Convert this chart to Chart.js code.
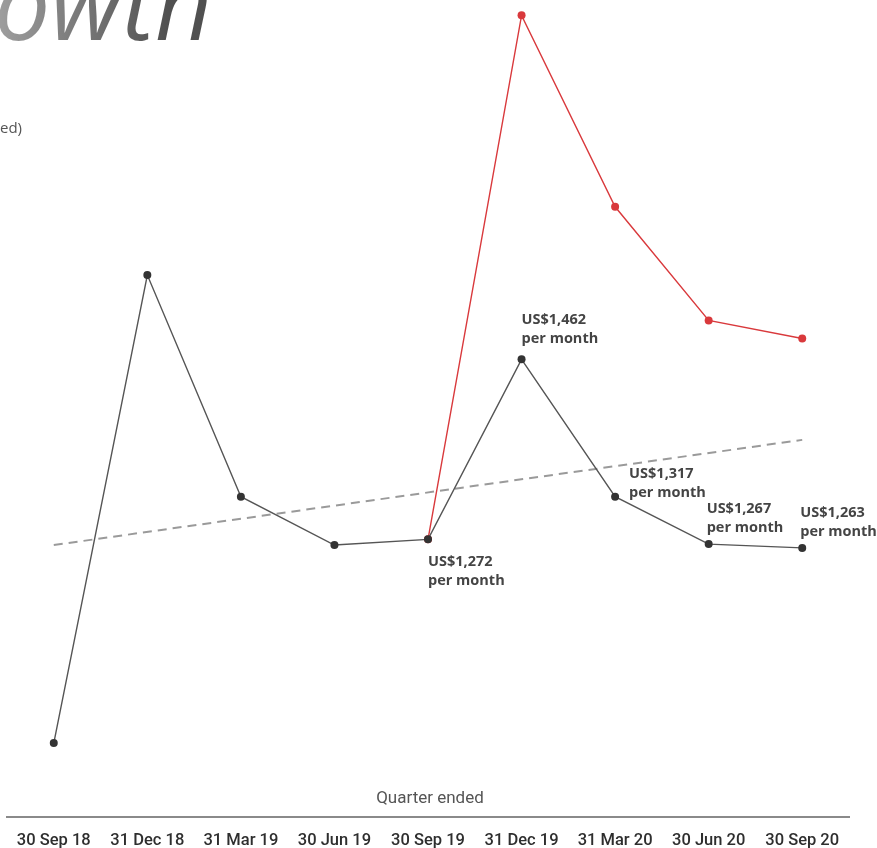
<!DOCTYPE html>
<html>
<head>
<meta charset="utf-8">
<script src="https://cdn.jsdelivr.net/npm/chart.js@4.4.1/dist/chart.umd.min.js"></script>
<style>
  html, body { margin: 0; padding: 0; background: #fff; }
  #wrap { position: relative; width: 877px; height: 848px; overflow: hidden; }
  #chart { position: absolute; left: 0; top: 0; }
  .title {
    position: absolute; left: -6px; top: -49px;
    font-family: "Open Sans", sans-serif; font-style: italic; font-weight: 400;
    font-size: 100px; line-height: 1; letter-spacing: 0px;
    background: linear-gradient(90deg, #a0a0a0, #505050 80%);
    -webkit-background-clip: text; background-clip: text; color: transparent;
  }
  .sub {
    position: absolute; left: 0; top: 117px;
    font-family: "Open Sans", sans-serif; font-size: 15px; color: #555;
  }
  .axis-title {
    position: absolute; left: 0; width: 860px; top: 787px; text-align: center;
    font-family: Roboto, sans-serif; font-size: 17px; color: #555;
  }
</style>
</head>
<body>
<div id="wrap">
  <canvas id="chart" width="877" height="848"></canvas>
  <div class="title">owth</div>
  <div class="sub">ed)</div>
  <div class="axis-title">Quarter ended</div>
</div>
<script>
// Kuartal (x axis)
const quarters = ["30 Sep 18", "31 Dec 18", "31 Mar 19", "30 Jun 19", "30 Sep 19",
  "31 Dec 19", "31 Mar 20", "30 Jun 20", "30 Sep 20"];

// US$ per month
const rentValues = [1057, 1551, 1317, 1266, 1272, 1462, 1317, 1267, 1263];
const redValues = [null, null, null, null, 1272, 1825, 1623, 1503, 1484];
const trendValues = [1266, null, null, null, null, null, null, null, 1377];

// label teks di titik hitam
const pointLabels = [null, null, null, null, "US$1,272", "US$1,462", "US$1,317", "US$1,267", "US$1,263"];

// posisi label relatif ke titik (dx, dy baris pertama)
const labelOffsets = {
  4: [0, 23],
  5: [0, -39],
  6: [14, -23],
  7: [-2, -35],
  8: [-2, -35],
};

const labelPlugin = {
  id: "pointLabels",
  afterDatasetsDraw(chart) {
    const ctx = chart.ctx;
    const meta = chart.getDatasetMeta(0);
    ctx.save();
    ctx.font = "bold 14.5px 'Open Sans', sans-serif";
    ctx.fillStyle = "#444";
    ctx.textAlign = "left";
    ctx.textBaseline = "middle";
    pointLabels.forEach((txt, i) => {
      if (!txt) return;
      const pt = meta.data[i];
      const off = labelOffsets[i];
      const x = pt.x + off[0];
      const y = pt.y + off[1];
      ctx.fillText(txt, x, y);
      ctx.fillText("per month", x, y + 19);
    });
    ctx.restore();
  },
};

const ctx = document.getElementById("chart").getContext("2d");
new Chart(ctx, {
  type: "line",
  data: {
    labels: quarters,
    datasets: [
      {
        data: rentValues,
        borderColor: "#555",
        borderWidth: 1.4,
        pointRadius: 4,
        pointBackgroundColor: "#333",
        pointBorderWidth: 0,
        tension: 0,
        order: 0,
      },
      {
        data: redValues,
        borderColor: "#d9393c",
        borderWidth: 1.4,
        pointRadius: 4,
        pointBackgroundColor: "#d9393c",
        pointBorderWidth: 0,
        tension: 0,
        order: 1,
      },
      {
        data: trendValues,
        borderColor: "#9a9a9a",
        borderWidth: 2,
        borderDash: [9, 6],
        pointRadius: 0,
        spanGaps: true,
        order: 2,
      },
    ],
  },
  options: {
    responsive: false,
    animation: false,
    layout: { padding: { left: 7, right: 28, top: 0, bottom: 0 } },
    plugins: {
      legend: { display: false },
      tooltip: { enabled: false },
    },
    scales: {
      x: {
        offset: true,
        grid: { display: false, drawTicks: false },
        border: { display: true, color: "#8a8a8a", width: 2 },
        ticks: {
          color: "#2e2e2e",
          padding: 14,
          maxRotation: 0,
          autoSkip: false,
          font: { family: "Roboto, sans-serif", size: 16.5, weight: "500" },
        },
        afterFit: (scale) => {
          scale.height = 31;
        },
      },
      y: {
        display: false,
        min: 979,
        max: 1837,
      },
    },
    elements: { line: { clip: false } },
  },
  plugins: [labelPlugin],
});
</script>
</body>
</html>
